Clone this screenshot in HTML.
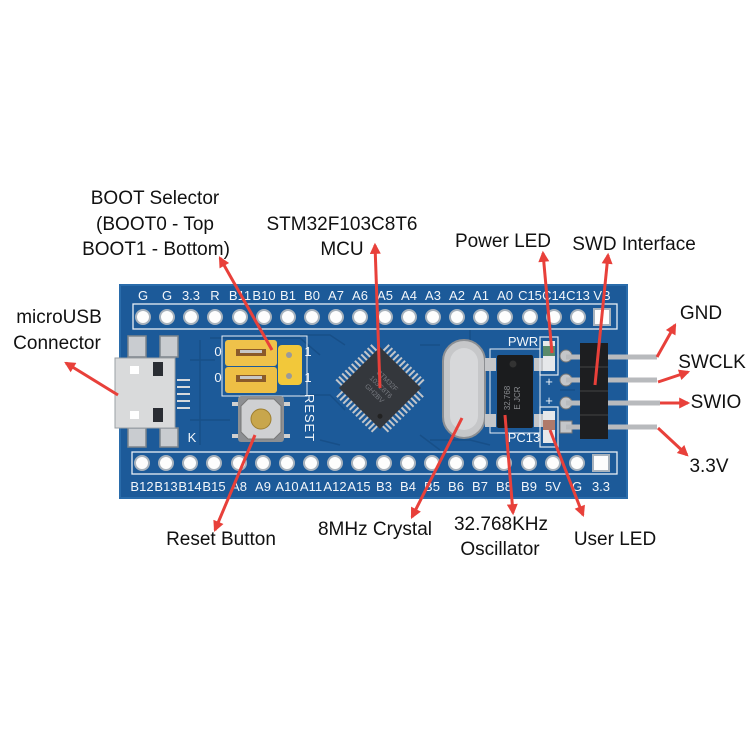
<!DOCTYPE html>
<html><head><meta charset="utf-8">
<style>
html,body{margin:0;padding:0;background:#fff;}
svg{display:block;}
.lbl{font-family:"Liberation Sans",sans-serif;font-size:19px;fill:#111;text-anchor:middle;}
.silk{font-family:"Liberation Sans",sans-serif;font-size:13px;fill:#f2f6fa;text-anchor:middle;}
</style></head>
<body>
<svg width="750" height="750" viewBox="0 0 750 750" xmlns="http://www.w3.org/2000/svg">
<defs>
<marker id="ah" viewBox="0 0 10 10" refX="8" refY="5" markerUnits="userSpaceOnUse" markerWidth="12" markerHeight="11" orient="auto">
<path d="M0,0 L10,5 L0,10 z" fill="#e8403a"/>
</marker>
</defs>
<rect width="750" height="750" fill="#fff"/>

<!-- Board -->
<rect x="120" y="285" width="507" height="213" fill="#1c5a99"/>
<rect x="120" y="285" width="507" height="213" fill="none" stroke="#2a6cab" stroke-width="2"/>
<!-- traces -->
<g stroke="#174e87" stroke-width="1.5" fill="none" opacity="0.9">
<path d="M200 340 L200 445 M210 338 L300 338 L320 355 M300 395 L330 395 L345 410"/>
<path d="M420 345 L440 345 M430 440 L470 440 L490 445 M470 340 L470 330"/>
<path d="M190 360 L215 360 M190 420 L230 420 M320 440 L340 445 M560 390 L575 390"/>
<path d="M420 435 L440 450 M345 345 L330 335 L300 335"/>
</g>

<!-- silkscreen outlines -->
<rect x="133" y="304" width="484" height="25" fill="none" stroke="#e8eef5" stroke-width="1.3"/>
<rect x="132" y="452" width="485" height="22" fill="none" stroke="#e8eef5" stroke-width="1.3"/>

<!-- top labels -->
<g class="silk">
<text x="143" y="300">G</text><text x="167" y="300">G</text><text x="191" y="300">3.3</text><text x="215" y="300">R</text>
<text x="240" y="300">B11</text><text x="264" y="300">B10</text><text x="288" y="300">B1</text><text x="312" y="300">B0</text>
<text x="336" y="300">A7</text><text x="360" y="300">A6</text><text x="385" y="300">A5</text><text x="409" y="300">A4</text>
<text x="433" y="300">A3</text><text x="457" y="300">A2</text><text x="481" y="300">A1</text><text x="505" y="300">A0</text>
<text x="530" y="300">C15</text><text x="554" y="300">C14</text><text x="578" y="300">C13</text><text x="602" y="300">VB</text>
</g>
<!-- bottom labels -->
<g class="silk">
<text x="142" y="491">B12</text><text x="166" y="491">B13</text><text x="190" y="491">B14</text><text x="214" y="491">B15</text>
<text x="239" y="491">A8</text><text x="263" y="491">A9</text><text x="287" y="491">A10</text><text x="311" y="491">A11</text>
<text x="335" y="491">A12</text><text x="359" y="491">A15</text><text x="384" y="491">B3</text><text x="408" y="491">B4</text>
<text x="432" y="491">B5</text><text x="456" y="491">B6</text><text x="480" y="491">B7</text><text x="504" y="491">B8</text>
<text x="529" y="491">B9</text><text x="553" y="491">5V</text><text x="577" y="491">G</text><text x="601" y="491">3.3</text>
</g>

<!-- holes -->
<g fill="#fdfdfd" stroke="#a9b3bd" stroke-width="2">
<circle cx="143" cy="317" r="7"/><circle cx="167" cy="317" r="7"/><circle cx="191" cy="317" r="7"/><circle cx="215" cy="317" r="7"/>
<circle cx="240" cy="317" r="7"/><circle cx="264" cy="317" r="7"/><circle cx="288" cy="317" r="7"/><circle cx="312" cy="317" r="7"/>
<circle cx="336" cy="317" r="7"/><circle cx="360" cy="317" r="7"/><circle cx="385" cy="317" r="7"/><circle cx="409" cy="317" r="7"/>
<circle cx="433" cy="317" r="7"/><circle cx="457" cy="317" r="7"/><circle cx="481" cy="317" r="7"/><circle cx="505" cy="317" r="7"/>
<circle cx="530" cy="317" r="7"/><circle cx="554" cy="317" r="7"/><circle cx="578" cy="317" r="7"/>
<rect x="594" y="309" width="16" height="16"/>
<circle cx="142" cy="463" r="7"/><circle cx="166" cy="463" r="7"/><circle cx="190" cy="463" r="7"/><circle cx="214" cy="463" r="7"/>
<circle cx="239" cy="463" r="7"/><circle cx="263" cy="463" r="7"/><circle cx="287" cy="463" r="7"/><circle cx="311" cy="463" r="7"/>
<circle cx="335" cy="463" r="7"/><circle cx="359" cy="463" r="7"/><circle cx="384" cy="463" r="7"/><circle cx="408" cy="463" r="7"/>
<circle cx="432" cy="463" r="7"/><circle cx="456" cy="463" r="7"/><circle cx="480" cy="463" r="7"/><circle cx="504" cy="463" r="7"/>
<circle cx="529" cy="463" r="7"/><circle cx="553" cy="463" r="7"/><circle cx="577" cy="463" r="7"/>
<rect x="593" y="455" width="16" height="16"/>
</g>

<!-- micro USB -->
<g>
<rect x="128" y="336" width="18" height="21" fill="#c9ccd0" stroke="#7d858c" stroke-width="1.5"/>
<rect x="160" y="336" width="18" height="21" fill="#c9ccd0" stroke="#7d858c" stroke-width="1.5"/>
<rect x="128" y="428" width="18" height="19" fill="#c9ccd0" stroke="#7d858c" stroke-width="1.5"/>
<rect x="160" y="428" width="18" height="19" fill="#c9ccd0" stroke="#7d858c" stroke-width="1.5"/>
<rect x="115" y="358" width="60" height="70" fill="#d9dadb" stroke="#9aa0a5" stroke-width="1"/>
<rect x="130" y="366" width="9" height="8" fill="#fff"/>
<rect x="130" y="411" width="9" height="8" fill="#fff"/>
<rect x="153" y="362" width="10" height="14" fill="#2a2d33"/>
<rect x="153" y="408" width="10" height="14" fill="#2a2d33"/>
<g stroke="#d6d9dc" stroke-width="2">
<line x1="177" y1="380" x2="190" y2="380"/><line x1="177" y1="387" x2="190" y2="387"/><line x1="177" y1="394" x2="190" y2="394"/><line x1="177" y1="401" x2="190" y2="401"/><line x1="177" y1="408" x2="190" y2="408"/>
</g>
<text x="192" y="442" class="silk" font-size="11">K</text>
</g>

<!-- BOOT jumpers -->
<g>
<rect x="222" y="336" width="85" height="60" fill="none" stroke="#e6ecf2" stroke-width="1"/>
<rect x="225" y="340" width="52" height="26" rx="3" fill="#efc24a"/>
<rect x="225" y="367" width="52" height="26" rx="3" fill="#eebf45"/>
<rect x="236" y="349" width="30" height="7" fill="#8a5a2a"/>
<rect x="236" y="375" width="30" height="7" fill="#8a5a2a"/>
<rect x="240" y="350" width="22" height="3" fill="#c7c7c7"/>
<rect x="240" y="376" width="22" height="3" fill="#c7c7c7"/>
<rect x="278" y="345" width="24" height="40" rx="4" fill="#f2c83a"/>
<circle cx="289" cy="355" r="3" fill="#9a9a9a"/>
<circle cx="289" cy="376" r="3" fill="#9a9a9a"/>
<text x="218" y="356" class="silk" font-size="11">0</text>
<text x="218" y="382" class="silk" font-size="11">0</text>
<text x="308" y="356" class="silk" font-size="11">1</text>
<text x="308" y="382" class="silk" font-size="11">1</text>
</g>

<!-- Reset button -->
<g>
<rect x="232" y="402" width="8" height="4" fill="#d0d0d0"/><rect x="282" y="402" width="8" height="4" fill="#d0d0d0"/>
<rect x="232" y="434" width="8" height="4" fill="#d0d0d0"/><rect x="282" y="434" width="8" height="4" fill="#d0d0d0"/>
<rect x="238" y="396" width="46" height="46" rx="3" fill="#8d8f92"/>
<polygon points="248,399 274,399 281,406 281,432 274,439 248,439 241,432 241,406" fill="#cfd0d2" stroke="#777" stroke-width="1"/>
<circle cx="261" cy="419" r="10" fill="#c8a64c" stroke="#9e7f30" stroke-width="1"/>
<text transform="translate(305,418) rotate(90)" class="silk" font-size="12" letter-spacing="1">RESET</text>
</g>

<!-- MCU chip -->
<g transform="translate(380,388) rotate(45)">
<g fill="#c3c6ca">
<rect x="-25" y="-37" width="2" height="9"/><rect x="-20.5" y="-37" width="2" height="9"/><rect x="-16" y="-37" width="2" height="9"/><rect x="-11.5" y="-37" width="2" height="9"/><rect x="-7" y="-37" width="2" height="9"/><rect x="-2.5" y="-37" width="2" height="9"/><rect x="2" y="-37" width="2" height="9"/><rect x="6.5" y="-37" width="2" height="9"/><rect x="11" y="-37" width="2" height="9"/><rect x="15.5" y="-37" width="2" height="9"/><rect x="20" y="-37" width="2" height="9"/><rect x="24" y="-37" width="2" height="9"/>
<rect x="-25" y="28" width="2" height="9"/><rect x="-20.5" y="28" width="2" height="9"/><rect x="-16" y="28" width="2" height="9"/><rect x="-11.5" y="28" width="2" height="9"/><rect x="-7" y="28" width="2" height="9"/><rect x="-2.5" y="28" width="2" height="9"/><rect x="2" y="28" width="2" height="9"/><rect x="6.5" y="28" width="2" height="9"/><rect x="11" y="28" width="2" height="9"/><rect x="15.5" y="28" width="2" height="9"/><rect x="20" y="28" width="2" height="9"/><rect x="24" y="28" width="2" height="9"/>
<rect y="-25" x="-37" height="2" width="9"/><rect y="-20.5" x="-37" height="2" width="9"/><rect y="-16" x="-37" height="2" width="9"/><rect y="-11.5" x="-37" height="2" width="9"/><rect y="-7" x="-37" height="2" width="9"/><rect y="-2.5" x="-37" height="2" width="9"/><rect y="2" x="-37" height="2" width="9"/><rect y="6.5" x="-37" height="2" width="9"/><rect y="11" x="-37" height="2" width="9"/><rect y="15.5" x="-37" height="2" width="9"/><rect y="20" x="-37" height="2" width="9"/><rect y="24" x="-37" height="2" width="9"/>
<rect y="-25" x="28" height="2" width="9"/><rect y="-20.5" x="28" height="2" width="9"/><rect y="-16" x="28" height="2" width="9"/><rect y="-11.5" x="28" height="2" width="9"/><rect y="-7" x="28" height="2" width="9"/><rect y="-2.5" x="28" height="2" width="9"/><rect y="2" x="28" height="2" width="9"/><rect y="6.5" x="28" height="2" width="9"/><rect y="11" x="28" height="2" width="9"/><rect y="15.5" x="28" height="2" width="9"/><rect y="20" x="28" height="2" width="9"/><rect y="24" x="28" height="2" width="9"/>
</g>
<rect x="-29" y="-29" width="58" height="58" fill="#34373c"/>
<circle cx="20" cy="20" r="2.5" fill="#222"/>
<g fill="#777a80" font-family="Liberation Sans,sans-serif" font-size="7" text-anchor="middle">
<text x="0" y="-8">STM32F</text><text x="0" y="1">103C8T6</text><text x="0" y="10">GH2BV</text>
</g>
</g>

<!-- 8MHz crystal -->
<rect x="443" y="340" width="42" height="98" rx="21" fill="#c6c7c9" stroke="#8c8f93" stroke-width="2"/>
<rect x="450" y="348" width="28" height="82" rx="14" fill="#d7d8da"/>

<!-- oscillator -->
<rect x="490" y="349" width="50" height="84" fill="none" stroke="#e6ecf2" stroke-width="1"/>
<rect x="485" y="358" width="11" height="13" fill="#c4c6c9"/>
<rect x="534" y="358" width="11" height="13" fill="#c4c6c9"/>
<rect x="485" y="414" width="11" height="13" fill="#c4c6c9"/>
<rect x="534" y="414" width="11" height="13" fill="#c4c6c9"/>
<rect x="497" y="355" width="36" height="73" rx="2" fill="#1b1c1e"/>
<circle cx="513" cy="364" r="3.5" fill="#333"/>
<text transform="translate(510,398) rotate(-90)" font-family="Liberation Sans,sans-serif" font-size="8" fill="#8a8c90" text-anchor="middle">32.768</text>
<text transform="translate(520,398) rotate(-90)" font-family="Liberation Sans,sans-serif" font-size="8" fill="#8a8c90" text-anchor="middle">E JCR</text>

<!-- LEDs -->
<text x="523" y="346" class="silk" font-size="10">PWR</text>
<text x="524" y="442" class="silk" font-size="10">PC13</text>
<rect x="540" y="337" width="18" height="38" fill="none" stroke="#e6ecf2" stroke-width="1.2"/>
<rect x="543" y="341" width="12" height="30" fill="#e6e8ea"/>
<rect x="543" y="346" width="12" height="10" fill="#5a8a6a"/>
<rect x="540" y="407" width="18" height="40" fill="none" stroke="#e6ecf2" stroke-width="1.2"/>
<rect x="543" y="411" width="12" height="32" fill="#e6e8ea"/>
<rect x="543" y="420" width="12" height="10" fill="#b07a6a"/>
<text x="549" y="386" class="silk" font-size="12">+</text>
<text x="549" y="405" class="silk" font-size="12">+</text>

<!-- SWD header -->
<g>
<circle cx="566" cy="356" r="6" fill="#c4c6c9" stroke="#777" stroke-width="1"/>
<circle cx="566" cy="380" r="6" fill="#c4c6c9" stroke="#777" stroke-width="1"/>
<circle cx="566" cy="403" r="6" fill="#c4c6c9" stroke="#777" stroke-width="1"/>
<rect x="560" y="421" width="12" height="12" fill="#c4c6c9" stroke="#777" stroke-width="1"/>
<g stroke="#b8babd" stroke-width="5">
<line x1="566" y1="357" x2="657" y2="357"/>
<line x1="566" y1="380" x2="657" y2="380"/>
<line x1="566" y1="403" x2="660" y2="403"/>
<line x1="566" y1="427" x2="657" y2="427"/>
</g>
<rect x="580" y="343" width="28" height="96" fill="#1d1e20"/>
<g stroke="#444" stroke-width="1">
<line x1="580" y1="367" x2="608" y2="367"/><line x1="580" y1="391" x2="608" y2="391"/><line x1="580" y1="415" x2="608" y2="415"/>
</g>
</g>

<!-- Arrows -->
<g stroke="#e8403a" stroke-width="3" fill="none" marker-end="url(#ah)">
<line x1="118" y1="395" x2="66" y2="363"/>
<line x1="272" y1="350" x2="220" y2="258"/>
<line x1="380" y1="388" x2="375" y2="245"/>
<line x1="552" y1="353" x2="543" y2="253"/>
<line x1="595" y1="385" x2="608" y2="255"/>
<line x1="657" y1="357" x2="675" y2="325"/>
<line x1="658" y1="382" x2="688" y2="372"/>
<line x1="660" y1="403" x2="688" y2="403"/>
<line x1="658" y1="428" x2="687" y2="455"/>
<line x1="255" y1="435" x2="215" y2="530"/>
<line x1="462" y1="418" x2="412" y2="517"/>
<line x1="505" y1="415" x2="513" y2="513"/>
<line x1="550" y1="430" x2="583" y2="515"/>
</g>

<!-- Labels -->
<g class="lbl">
<text x="59" y="323">microUSB</text>
<text x="57" y="349">Connector</text>
<text x="155" y="204">BOOT Selector</text>
<text x="155" y="230">(BOOT0 - Top</text>
<text x="156" y="255">BOOT1 - Bottom)</text>
<text x="342" y="230">STM32F103C8T6</text>
<text x="342" y="255">MCU</text>
<text x="503" y="247">Power LED</text>
<text x="634" y="250">SWD Interface</text>
<text x="701" y="319">GND</text>
<text x="712" y="368">SWCLK</text>
<text x="716" y="408">SWIO</text>
<text x="709" y="472">3.3V</text>
<text x="221" y="545">Reset Button</text>
<text x="375" y="535">8MHz Crystal</text>
<text x="501" y="530">32.768KHz</text>
<text x="500" y="555">Oscillator</text>
<text x="615" y="545">User LED</text>
</g>
</svg>
</body></html>
